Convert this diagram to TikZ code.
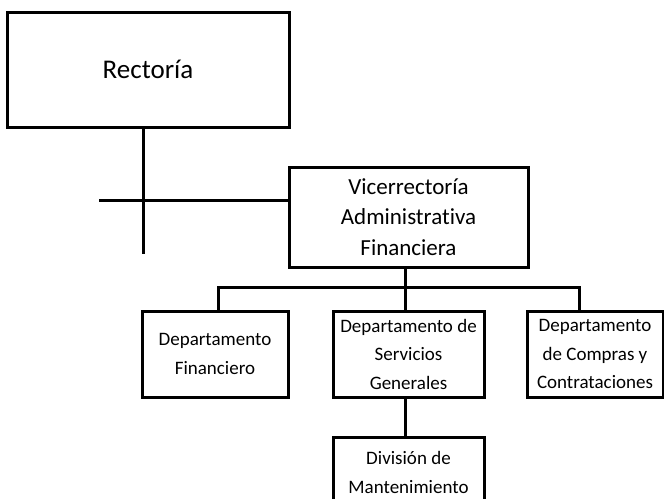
\documentclass[tikz,border=0pt]{standalone}
\usepackage{fontspec}
\setmainfont[Ligatures=NoCommon]{Carlito}
\usetikzlibrary{positioning}

\tikzset{
  caja/.style={draw, line width=3pt, inner sep=0pt, align=center},
  linea/.style={line width=3pt}
}

\begin{document}
\begin{tikzpicture}[x=1pt,y=-1pt]
\useasboundingbox (0,0) rectangle (664,498);

\node[caja, minimum width=282, minimum height=115, font=\fontsize{27}{32}\selectfont] (rectoria) at (148,69.5) {Rector\'ia};
\node[caja, minimum width=239, minimum height=100, font=\fontsize{23}{30.5}\selectfont] (vice) at (408.5,217) {Vicerrector\'ia\\Administrativa\\Financiera};

\node[caja, minimum width=146, minimum height=86, font=\fontsize{19}{29}\selectfont] (dfin) at (215,354) {Departamento\\Financiero};
\node[caja, minimum width=151, minimum height=86, font=\fontsize{19}{28.5}\selectfont] (dserv) at (408.5,354) {Departamento de\\Servicios\\Generales};
\node[caja, minimum width=136, minimum height=86, font=\fontsize{19}{28.5}\selectfont] (dcomp) at (595,354) {Departamento\\de Compras y\\Contrataciones};
\node[caja, minimum width=151, minimum height=70, font=\fontsize{19}{29}\selectfont] (mant) at (408.5,472) {Divisi\'on de\\Mantenimiento};

% lineas de Rectoria
\coordinate (tallo) at (143,254);
\coordinate (brazo) at (99,200);
\draw[linea] (rectoria.south -| tallo) -- (tallo);
\draw[linea] (brazo) -- (brazo -| vice.west);

% barra de departamentos
\coordinate (barra) at (405,287);
\draw[linea] (vice.south -| barra) -- (dserv.north -| barra);
\draw[linea] ([xshift=3pt]dfin.north) |- ([xshift=-16pt]dcomp.north |- barra) -- ([xshift=-16pt]dcomp.north);
\draw[linea] (dserv.south -| barra) -- (mant.north -| barra);
\end{tikzpicture}
\end{document}
